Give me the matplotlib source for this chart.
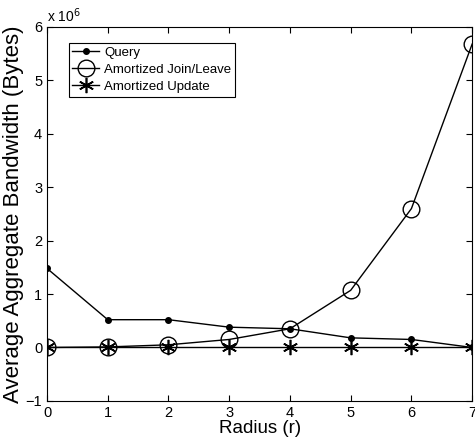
import matplotlib
matplotlib.use("Agg")
import matplotlib.pyplot as plt

plt.rcParams['font.family'] = ['Liberation Sans', 'DejaVu Sans']

# data (units of 1e6 bytes)
radius = [0, 1, 2, 3, 4, 5, 6, 7]
query = [1.48, 0.52, 0.52, 0.38, 0.35, 0.18, 0.15, 0.0]
join_leave = [0.0, 0.01, 0.05, 0.15, 0.35, 1.07, 2.6, 5.68]
update = [0, 0, 0, 0, 0, 0, 0, 0]

fig = plt.figure(figsize=(4.75, 4.42), dpi=100)
ax = fig.add_axes([0.099, 0.093, 0.895, 0.846])

ax.plot(radius, query, color='black', lw=1, marker='o', ms=4, label='Query')
ax.plot(radius, join_leave, color='black', lw=1, marker='o', ms=12,
        mfc='none', mew=1, label='Amortized Join/Leave')
ax.plot(radius, update, color='black', lw=1, marker=(6, 2, 0), ms=11,
        mew=1.2, label='Amortized Update')

ax.set_xlim(0, 7)
ax.set_ylim(-1, 6)
ax.set_xticks(range(8))
ax.set_yticks(range(-1, 7))
ax.tick_params(direction='in', top=True, right=True, labelsize=10.5, length=4)
ax.set_xlabel('Radius (r)', fontsize=13.5, labelpad=0)
ax.set_ylabel('Average Aggregate Bandwidth (Bytes)', fontsize=16, labelpad=1)
ax.text(0, 1.005, r'x 10$^6$', transform=ax.transAxes, fontsize=10,
        ha='left', va='bottom')

leg = ax.legend(loc='upper left', bbox_to_anchor=(0.035, 0.975), fontsize=9.5,
                fancybox=False, edgecolor='black', framealpha=1,
                borderpad=0.3, labelspacing=0.35, handlelength=2.0,
                handletextpad=0.4)
leg.get_frame().set_linewidth(0.8)

fig.savefig('out.png', dpi=100)
